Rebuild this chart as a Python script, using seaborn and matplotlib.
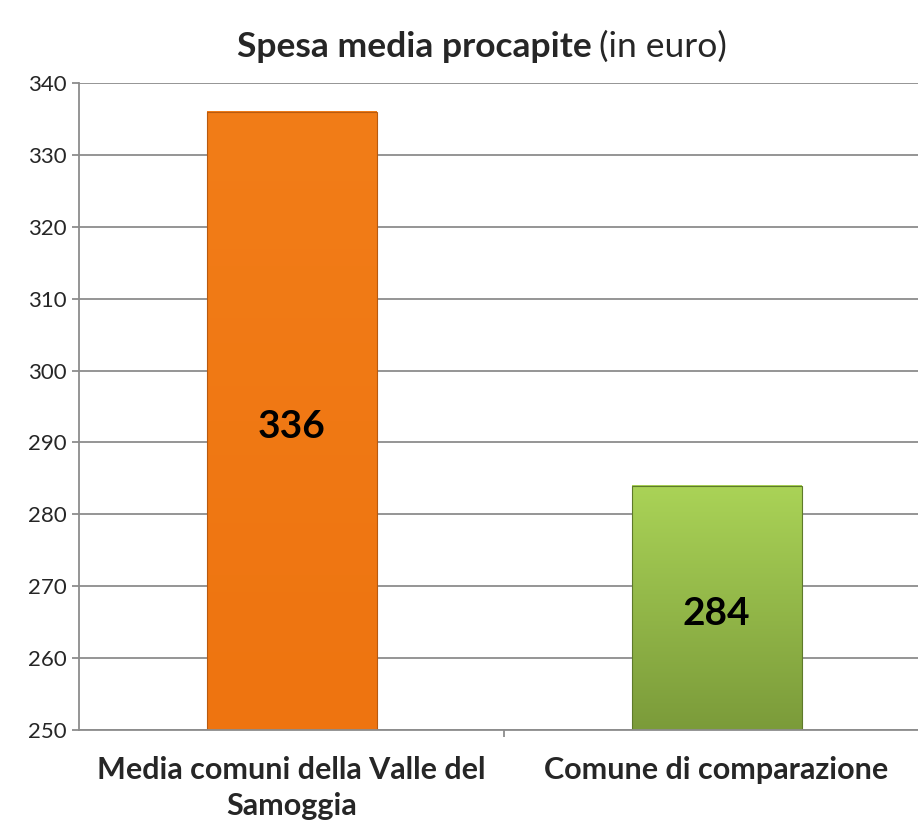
import numpy as np
import pandas as pd
import seaborn as sns
from matplotlib import pyplot as plt
from matplotlib.colors import LinearSegmentedColormap

categories = ["Media comuni della Valle del\nSamoggia", "Comune di comparazione"]
values = [336, 284]
top_colors = ["#F27D18", "#AAD357"]
bottom_colors = ["#EE7410", "#7B9B3A"]
edge_colors = ["#B85A10", "#5E7A2A"]
y_ticks = list(range(250, 341, 10))

sns.set_theme(style="white")
plt.rcParams["font.family"] = ["Lato", "DejaVu Sans"]

df = pd.DataFrame({"cat": categories, "val": values})

fig = plt.figure(figsize=(9.18, 8.25), dpi=100)
# plot area runs slightly past the right edge of the image, like the original
ax = fig.add_axes([79 / 918, 1 - 730 / 825, 850 / 918, 647 / 825])

sns.barplot(data=df, x="cat", y="val", hue="cat", palette=bottom_colors,
            width=0.40, legend=False, ax=ax, zorder=3)

ymin, ymax = 250, 340
ax.set_ylim(ymin, ymax)
ax.set_xlim(-0.5, 1.5)
ax.set_yticks(y_ticks)
ax.yaxis.grid(True, color="#8c8c8c", linewidth=1.3, zorder=0)
ax.set_axisbelow(True)

# gradient fill for each bar, only the visible part above the axis floor
for patch, c_top, c_bot, c_edge, v in zip(ax.patches, top_colors, bottom_colors,
                                          edge_colors, values):
    x0, w = patch.get_x(), patch.get_width()
    cmap = LinearSegmentedColormap.from_list("g", [c_bot, c_top])
    grad = np.linspace(0, 1, 256).reshape(-1, 1)
    ax.imshow(grad, cmap=cmap, aspect="auto", origin="lower",
              extent=[x0, x0 + w, ymin, v], zorder=3)
    patch.set_facecolor("none")
    patch.set_edgecolor(c_edge)
    patch.set_linewidth(0.8)
    patch.set_zorder(4)
    ax.annotate(str(v), xy=(x0 + w / 2, (v + ymin) / 2), xytext=(0, -4),
                textcoords="offset points", ha="center", va="center",
                fontsize=28, fontweight="bold", color="black", zorder=5)

ax.set_aspect("auto")
ax.set_xlim(-0.5, 1.5)
ax.set_ylim(ymin, ymax)

for s in ["top", "right"]:
    ax.spines[s].set_visible(False)
for s in ["left", "bottom"]:
    ax.spines[s].set_color("#8c8c8c")
    ax.spines[s].set_linewidth(1.3)
    ax.spines[s].set_zorder(6)

ax.set_xlabel("")
ax.set_ylabel("")
ax.tick_params(axis="y", length=5, width=1.3, color="#8c8c8c", labelsize=16, pad=4,
               left=True)
ax.tick_params(axis="x", which="major", length=0, labelsize=22, pad=19)
ax.set_xticks([0.5], minor=True)
ax.tick_params(axis="x", which="minor", length=5, width=1.3, color="#8c8c8c", bottom=True)
for lbl in ax.get_xticklabels():
    lbl.set_fontweight("bold")
    lbl.set_va("top")
    lbl.set_linespacing(1.35)

fig.text(592 / 918, 1 - 47 / 825, "Spesa media procapite", ha="right", va="center",
         fontsize=25.5, fontweight="bold")
fig.text(599 / 918, 1 - 47 / 825, "(in euro)", ha="left", va="center", fontsize=25.5)

fig.savefig("out.png", dpi=100)
